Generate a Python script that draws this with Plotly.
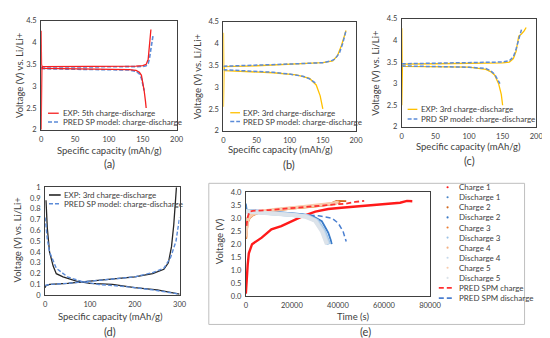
import plotly.graph_objects as go

W, H = 550, 338

# ---------------- data ----------------
# (a) LFP 5th cycle
a_exp_ch_x = [0, 0, 1, 3, 50, 100, 140, 150, 155, 158, 160, 162]
a_exp_ch_y = [2.0, 3.38, 3.43, 3.45, 3.45, 3.45, 3.46, 3.47, 3.5, 3.62, 3.95, 4.3]
a_exp_dis_x = [0, 0.5, 2, 50, 100, 130, 140, 145, 148, 150, 152, 154, 155]
a_exp_dis_y = [4.27, 3.5, 3.41, 3.4, 3.39, 3.38, 3.36, 3.32, 3.25, 3.1, 2.9, 2.65, 2.5]
a_pred_ch_x = [0, 2, 50, 100, 150, 155, 158, 160, 162, 165]
a_pred_ch_y = [3.43, 3.44, 3.44, 3.44, 3.45, 3.47, 3.52, 3.65, 3.9, 4.15]
a_pred_dis_x = [0, 50, 100, 130, 140, 145, 148, 150, 152]
a_pred_dis_y = [3.4, 3.39, 3.38, 3.37, 3.34, 3.28, 3.18, 3.05, 2.9]

# (b)
b_exp_ch_x = [0, 0, 1, 50, 100, 150, 165, 172, 178, 185]
b_exp_ch_y = [2.55, 3.4, 3.47, 3.49, 3.52, 3.56, 3.6, 3.72, 3.95, 4.3]
b_exp_dis_x = [0, 0.5, 2, 40, 75, 110, 130, 140, 146, 150]
b_exp_dis_y = [4.25, 3.45, 3.38, 3.36, 3.33, 3.28, 3.2, 3.05, 2.8, 2.5]
b_pred_ch_x = [0, 50, 100, 150, 162, 168, 175, 180, 185]
b_pred_ch_y = [3.48, 3.5, 3.53, 3.56, 3.6, 3.64, 3.78, 4.0, 4.3]
b_pred_dis_x = [0, 40, 75, 100, 120, 130, 136, 140]
b_pred_dis_y = [3.4, 3.37, 3.34, 3.3, 3.25, 3.19, 3.13, 3.08]

# (c)
c_exp_ch_x = [0, 0, 1, 50, 100, 150, 160, 166, 170, 174, 178, 182, 185]
c_exp_ch_y = [2.5, 3.4, 3.45, 3.46, 3.47, 3.48, 3.5, 3.58, 3.75, 4.1, 4.15, 4.22, 4.3]
c_exp_dis_x = [0, 0.5, 2, 50, 100, 125, 132, 138, 144, 148, 150]
c_exp_dis_y = [4.28, 3.45, 3.4, 3.39, 3.38, 3.33, 3.28, 3.2, 3.0, 2.75, 2.5]
c_pred_ch_x = [0, 50, 100, 150, 160, 166, 170, 174, 176, 178]
c_pred_ch_y = [3.46, 3.47, 3.48, 3.5, 3.53, 3.62, 3.8, 4.05, 4.15, 4.25]
c_pred_dis_x = [0, 50, 100, 125, 132, 138, 143, 146]
c_pred_dis_y = [3.41, 3.4, 3.38, 3.35, 3.3, 3.22, 3.1, 3.0]

# (d) graphite
d_exp_dis_x = [2, 5, 10, 18, 25, 40, 70, 100, 150, 200, 250, 280, 300]
d_exp_dis_y = [0.88, 0.62, 0.4, 0.27, 0.2, 0.17, 0.13, 0.11, 0.1, 0.07, 0.05, 0.03, 0.01]
d_exp_ch_x = [0, 2, 10, 50, 100, 150, 200, 240, 265, 275, 282, 287, 291, 293]
d_exp_ch_y = [0.07, 0.09, 0.1, 0.11, 0.13, 0.15, 0.17, 0.2, 0.24, 0.3, 0.45, 0.65, 0.85, 1.0]
d_pred_dis_x = [0, 5, 10, 25, 50, 80, 120, 180, 240, 290, 300]
d_pred_dis_y = [0.72, 0.52, 0.4, 0.25, 0.17, 0.13, 0.1, 0.08, 0.05, 0.02, 0.01]
d_pred_ch_x = [0, 10, 50, 100, 150, 200, 240, 265, 280, 292, 300]
d_pred_ch_y = [0.09, 0.1, 0.11, 0.13, 0.15, 0.17, 0.21, 0.25, 0.35, 0.5, 0.72]

# (e) full cell vs time
e_c1_t = [0, 300, 800, 1300, 2700, 6900, 11100, 15400, 19600, 24500, 30200, 35800, 41500, 54200, 67000, 70000, 72300]
e_c1_v = [0.1, 0.6, 1.2, 1.65, 2.0, 2.25, 2.57, 2.69, 2.88, 3.07, 3.25, 3.35, 3.40, 3.50, 3.59, 3.66, 3.65]
e_d1_t = [0, 300, 800, 3000]
e_d1_v = [3.56, 3.35, 3.28, 3.25]
e_c2_t = [0, 300, 1000, 3400, 10500, 17500, 24500, 35800, 39400, 43600]
e_c2_v = [2.6, 2.9, 3.05, 3.25, 3.31, 3.38, 3.41, 3.52, 3.66, 3.65]
e_d2_t = [0, 10500, 24500, 28800, 33000, 35800, 36900, 37300]
e_d2_v = [3.31, 3.26, 3.15, 3.09, 2.88, 2.44, 2.15, 2.0]
e_c3_t = [0, 200, 600, 1500, 3000, 6000, 12000, 20000, 30000, 38000, 41000]
e_c3_v = [2.2, 2.5, 2.8, 3.0, 3.12, 3.22, 3.3, 3.38, 3.46, 3.55, 3.62]
e_d3_t = [0, 10000, 20000, 27000, 31000, 34000, 35500, 36200]
e_d3_v = [3.27, 3.21, 3.14, 3.07, 2.9, 2.5, 2.15, 2.0]
e_c4_t = [0, 200, 600, 1500, 3000, 6000, 12000, 20000, 30000, 38000, 40500]
e_c4_v = [2.25, 2.55, 2.85, 3.02, 3.14, 3.23, 3.31, 3.39, 3.47, 3.56, 3.62]
e_d4_t = [0, 10000, 20000, 26500, 30500, 33500, 35000, 35700]
e_d4_v = [3.26, 3.2, 3.13, 3.06, 2.9, 2.5, 2.15, 2.0]
e_c5_t = [0, 200, 600, 1500, 3000, 6000, 12000, 20000, 30000, 38000, 40000]
e_c5_v = [2.3, 2.6, 2.9, 3.05, 3.16, 3.25, 3.33, 3.4, 3.48, 3.57, 3.62]
e_d5_t = [0, 10000, 20000, 26000, 30000, 33000, 34500, 35200]
e_d5_v = [3.25, 3.19, 3.12, 3.05, 2.9, 2.5, 2.15, 2.0]
e_pc_t = [300, 700, 1500, 3000, 10000, 20000, 30000, 38000, 43600, 47500, 51400]
e_pc_v = [2.7, 3.0, 3.25, 3.28, 3.31, 3.38, 3.45, 3.52, 3.56, 3.62, 3.66]
e_pd_t = [0, 10000, 20000, 31600, 37300, 40100, 42200, 43600]
e_pd_v = [3.25, 3.2, 3.16, 3.09, 3.0, 2.81, 2.5, 2.1]

e_names = ["Charge 1", "Discharge 1", "Charge 2", "Discharge 2", "Charge 3", "Discharge 3",
           "Charge 4", "Discharge 4", "Charge 5", "Discharge 5", "PRED SPM charge", "PRED SPM discharge"]
e_colors = ["#FF1A1A", "#4A86C8", "#D2691E", "#3A7BC8", "#ED7D31", "#9DC3E6",
            "#F4B183", "#C5D9EC", "#F8CBAD", "#DCE3EA", "#FF3030", "#4A7FD0"]

# ---------------- helpers ----------------
def X(p): return p / W
def Y(p): return 1 - p / H

FONT = "Lato"
AX = "#404040"
fig = go.Figure()
DASH = "4px,2px"

def tr(x, y, color, axis, dash="solid", width=1.5):
    fig.add_trace(go.Scatter(x=x, y=y, mode="lines", xaxis="x" + axis, yaxis="y" + axis,
                             line=dict(color=color, width=width, dash=dash),
                             showlegend=False, hoverinfo="skip"))

RED = "#F52020"
BLUE = "#5B8BD8"
GOLD = "#FFC000"

tr(a_pred_ch_x, a_pred_ch_y, BLUE, "", DASH, 1.6)
tr(a_pred_dis_x, a_pred_dis_y, BLUE, "", DASH, 1.6)
tr(a_exp_ch_x, a_exp_ch_y, RED, "", "solid", 1.3)
tr(a_exp_dis_x, a_exp_dis_y, RED, "", "solid", 1.3)

tr(b_exp_ch_x, b_exp_ch_y, GOLD, "2", "solid", 1.3)
tr(b_exp_dis_x, b_exp_dis_y, GOLD, "2", "solid", 1.3)
tr(b_pred_ch_x, b_pred_ch_y, BLUE, "2", DASH, 1.5)
tr(b_pred_dis_x, b_pred_dis_y, BLUE, "2", DASH, 1.5)

tr(c_exp_ch_x, c_exp_ch_y, GOLD, "3", "solid", 1.3)
tr(c_exp_dis_x, c_exp_dis_y, GOLD, "3", "solid", 1.3)
tr(c_pred_ch_x, c_pred_ch_y, BLUE, "3", DASH, 1.5)
tr(c_pred_dis_x, c_pred_dis_y, BLUE, "3", DASH, 1.5)

tr(d_exp_dis_x, d_exp_dis_y, "#262626", "4", "solid", 1.3)
tr(d_exp_ch_x, d_exp_ch_y, "#262626", "4", "solid", 1.3)
tr(d_pred_dis_x, d_pred_dis_y, BLUE, "4", DASH, 1.4)
tr(d_pred_ch_x, d_pred_ch_y, BLUE, "4", DASH, 1.4)

e_series = [(e_c1_t, e_c1_v), (e_d1_t, e_d1_v), (e_c2_t, e_c2_v), (e_d2_t, e_d2_v),
            (e_c3_t, e_c3_v), (e_d3_t, e_d3_v), (e_c4_t, e_c4_v), (e_d4_t, e_d4_v),
            (e_c5_t, e_c5_v), (e_d5_t, e_d5_v)]
e_widths = [2.4, 1.8, 1.8, 1.8, 2.5, 4.0, 3.0, 4.0, 3.0, 4.0]
tr(e_pd_t, e_pd_v, e_colors[11], "5", "5px,3px", 1.5)
for (t, v), c, w in zip(e_series, e_colors[:10], e_widths):
    tr(t, v, c, "5", "solid", w)
tr(e_pc_t, e_pc_v, e_colors[10], "5", "5px,3px", 1.8)

# ---------------- axes ----------------
tickfont = dict(family=FONT, size=7.5, color="#404040")

def axes(n, xd, yd, xr, yr, xdt, ydt, yfmt=None):
    a = "" if n == "" else n
    fig.layout["xaxis" + n] = dict(domain=xd, range=xr, dtick=xdt, tick0=0, showline=True, mirror=True,
                                   linecolor=AX, linewidth=1, showgrid=False, zeroline=False,
                                   ticks="", tickfont=tickfont, anchor="y" + a, fixedrange=True,
                                   tickformat="d", ticklabelstandoff=2)
    fig.layout["yaxis" + n] = dict(domain=yd, range=yr, dtick=ydt, tick0=0, showline=True, mirror=True,
                                   linecolor=AX, linewidth=1, showgrid=False, zeroline=False,
                                   ticks="", tickfont=tickfont, anchor="x" + a, fixedrange=True,
                                   tickformat=yfmt, ticklabelstandoff=2)

axes("", [X(32), X(171)], [Y(121), Y(9)], [0, 200], [2, 4.5], 50, 0.5)
axes("2", [X(219), X(355)], [Y(122), Y(10)], [0, 200], [2, 4.5], 50, 0.5)
axes("3", [X(402), X(540)], [Y(118), Y(7)], [0, 200], [2, 4.5], 50, 0.5)
axes("4", [X(36), X(174)], [Y(291), Y(180)], [0, 300], [0, 1], 100, 0.1)
axes("5", [X(242), X(431)], [Y(292), Y(185)], [0, 80000], [0, 4], 20000, 0.5, ".1f")

# ---------------- text ----------------
ann = []
shapes = []
def text(px, py, s, size=8, xanchor="left", angle=0, color="#404040"):
    ann.append(dict(x=X(px), y=Y(py), xref="paper", yref="paper", text=s, showarrow=False,
                    xanchor=xanchor, yanchor="middle", textangle=angle,
                    font=dict(family=FONT, size=size, color=color)))

def key_line(x0, x1, py, color, dash="solid", width=1.5):
    shapes.append(dict(type="line", xref="paper", yref="paper", x0=X(x0), x1=X(x1), y0=Y(py), y1=Y(py),
                       line=dict(color=color, width=width, dash=dash)))

def key_dot(px, py, color):
    shapes.append(dict(type="circle", xref="paper", yref="paper", x0=X(px - 1.1), x1=X(px + 1.1),
                       y0=Y(py + 1.1), y1=Y(py - 1.1), line=dict(width=0), fillcolor=color))

XT = "Specific capacity (mAh/g)"
YT = "Voltage (V) vs. Li/Li+"
TS = 9.5
LS = 11
text(102, 142, XT, TS, "center"); text(10, 65, YT, TS, "center", -90); text(102, 156, "(a)", LS, "center")
text(278, 141, XT, TS, "center"); text(192, 66, YT, TS, "center", -90); text(286, 157, "(b)", LS, "center")
text(470, 138, XT, TS, "center"); text(375, 62, YT, TS, "center", -90); text(472, 153, "(c)", LS, "center")
text(103, 313, XT, TS, "center"); text(8, 234, YT, TS, "center", -90); text(103, 328, "(d)", LS, "center")
text(352, 313, "Time (s)", TS, "center"); text(215, 236, "Voltage (V)", TS, "center", -90)
text(365, 328, "(e)", LS, "center")

# legends
text(52, 104, "EXP: 5th charge-discharge"); key_line(39, 50, 104, RED, "solid", 1.3)
text(52, 113, "PRED SP model: charge-discharge"); key_line(39, 50, 113, BLUE, DASH, 1.6)
text(237, 103.5, "EXP: 3rd charge-discharge"); key_line(226, 236, 103.5, GOLD, "solid", 1.3)
text(237, 112.5, "PRED SP model: charge-discharge"); key_line(226, 236, 112.5, BLUE, DASH, 1.6)
text(420, 100, "EXP: 3rd charge-discharge"); key_line(408, 418, 100, GOLD, "solid", 1.3)
text(420, 110, "PRD SP model: charge-discharge"); key_line(408, 418, 110, BLUE, DASH, 1.6)
text(53, 188, "EXP: 3rd charge-discharge"); key_line(40, 52, 188, "#262626", "solid", 1.6)
text(53, 197, "PRED SP model: charge-discharge"); key_line(40, 52, 197, BLUE, DASH, 1.4)

for i, (name, col) in enumerate(zip(e_names, e_colors)):
    py = 180 + i * 10.35
    text(459, py, name)
    if i < 10:
        key_dot(449, py, col)
    else:
        key_line(440, 456, py, col, "5px,3px", 1.8)

# outer box of panel (e)
shapes.append(dict(type="rect", xref="paper", yref="paper", x0=X(204), x1=X(528), y0=Y(321), y1=Y(176),
                   line=dict(color="#BFBFBF", width=1), layer="below"))

fig.update_layout(width=W, height=H, margin=dict(l=0, r=0, t=0, b=0),
                  paper_bgcolor="white", plot_bgcolor="white", showlegend=False,
                  annotations=ann, shapes=shapes, font=dict(family=FONT))
fig.write_html("out.html")
